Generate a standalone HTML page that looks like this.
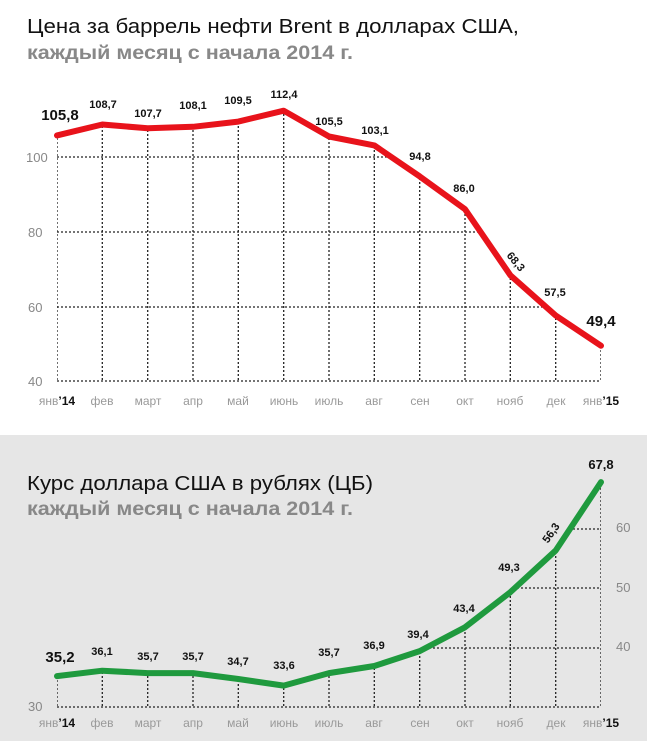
<!DOCTYPE html>
<html><head><meta charset="utf-8"><style>
body{margin:0;background:#fff;}
svg{display:block;font-family:"Liberation Sans","DejaVu Sans",sans-serif;}
.t{font-size:20px;fill:#111;}
.s{font-size:19px;fill:#888;font-weight:bold;}
.m{font-size:12px;fill:#999;text-anchor:middle;}
.y{font-size:13px;fill:#888;}
.v{font-size:11px;font-weight:bold;fill:#111;text-anchor:middle;}
.g{stroke:#222;stroke-width:1.3;stroke-dasharray:2 2;fill:none;}
</style></head><body>
<svg width="647" height="741" viewBox="0 0 647 741">
<defs>
<clipPath id="c1"><polygon points="57,135.4 102.3,124.5 147.7,128.3 193,126.8 238.3,121.6 283.7,110.7 329,136.5 374.3,145.4 419.7,176.4 465,209.2 510.3,275.2 555.7,315.5 601,345.7 601,383 57,383"/></clipPath>
<clipPath id="c2"><polygon points="57,676.1 102.3,670.7 147.7,673.1 193,673.1 238.3,679 283.7,685.6 329,673.1 374.3,666 419.7,651.1 465,627.3 510.3,592.2 555.7,550.5 601,482.1 601,709 57,709"/></clipPath>
</defs>
<rect width="647" height="741" fill="#fff"/>
<text class="t" x="27" y="33" textLength="492" lengthAdjust="spacingAndGlyphs">Цена за баррель нефти Brent в долларах США,</text>
<text class="s" x="27" y="59" textLength="326" lengthAdjust="spacingAndGlyphs">каждый месяц с начала 2014 г.</text>
<g clip-path="url(#c1)">
<path class="g" d="M57,157H601M57,232H601M57,307H601M57,381H601M57,110V381M102.3,110V381M147.7,110V381M193,110V381M238.3,110V381M283.7,110V381M329,110V381M374.3,110V381M419.7,110V381M465,110V381M510.3,110V381M555.7,110V381M601,110V381"/>
</g>
<text class="y" x="26" y="162">100</text><text class="y" x="28" y="237">80</text><text class="y" x="28" y="312">60</text><text class="y" x="28" y="386">40</text>
<polyline points="57,135.4 102.3,124.5 147.7,128.3 193,126.8 238.3,121.6 283.7,110.7 329,136.5 374.3,145.4 419.7,176.4 465,209.2 510.3,275.2 555.7,315.5 601,345.7" fill="none" stroke="#e8131b" stroke-width="6" stroke-linejoin="round" stroke-linecap="round"/>
<text class="v" x="60" y="120" style="font-size:15px">105,8</text>
<text class="v" x="103" y="108">108,7</text><text class="v" x="148" y="117">107,7</text><text class="v" x="193" y="109">108,1</text><text class="v" x="238" y="104">109,5</text><text class="v" x="284" y="98">112,4</text><text class="v" x="329" y="125">105,5</text><text class="v" x="375" y="134">103,1</text><text class="v" x="420" y="160">94,8</text><text class="v" x="464" y="192">86,0</text>
<text class="v" transform="translate(513,264) rotate(50)">68,3</text>
<text class="v" x="555" y="296">57,5</text>
<text class="v" x="601" y="326" style="font-size:15px">49,4</text>
<g class="m"><text x="57" y="405">янв<tspan style="fill:#111;font-weight:bold">’14</tspan></text><text x="102" y="405">фев</text><text x="148" y="405">март</text><text x="193" y="405">апр</text><text x="238" y="405">май</text><text x="284" y="405">июнь</text><text x="329" y="405">июль</text><text x="374" y="405">авг</text><text x="420" y="405">сен</text><text x="465" y="405">окт</text><text x="510" y="405">нояб</text><text x="556" y="405">дек</text><text x="601" y="405">янв<tspan style="fill:#111;font-weight:bold">’15</tspan></text></g>

<rect x="0" y="435" width="647" height="306" fill="#e6e6e6"/>
<text class="t" x="27" y="490" textLength="346" lengthAdjust="spacingAndGlyphs">Курс доллара США в рублях (ЦБ)</text>
<text class="s" x="27" y="515" textLength="326" lengthAdjust="spacingAndGlyphs">каждый месяц с начала 2014 г.</text>
<g clip-path="url(#c2)">
<path class="g" d="M57,648H601M57,588H601M57,529H601M57,707H601M57,480V707M102.3,480V707M147.7,480V707M193,480V707M238.3,480V707M283.7,480V707M329,480V707M374.3,480V707M419.7,480V707M465,480V707M510.3,480V707M555.7,480V707M601,480V707"/>
</g>
<text class="y" x="616" y="532">60</text><text class="y" x="616" y="592">50</text><text class="y" x="616" y="651">40</text><text class="y" x="28" y="711">30</text>
<polyline points="57,676.1 102.3,670.7 147.7,673.1 193,673.1 238.3,679 283.7,685.6 329,673.1 374.3,666 419.7,651.1 465,627.3 510.3,592.2 555.7,550.5 601,482.1" fill="none" stroke="#1f9a3e" stroke-width="6" stroke-linejoin="round" stroke-linecap="round"/>
<text class="v" x="60" y="662" style="font-size:15px">35,2</text>
<text class="v" x="102" y="655">36,1</text><text class="v" x="148" y="660">35,7</text><text class="v" x="193" y="660">35,7</text><text class="v" x="238" y="665">34,7</text><text class="v" x="284" y="669">33,6</text><text class="v" x="329" y="656">35,7</text><text class="v" x="374" y="649">36,9</text><text class="v" x="418" y="638">39,4</text><text class="v" x="464" y="612">43,4</text><text class="v" x="509" y="571">49,3</text>
<text class="v" transform="translate(554,535) rotate(-55)">56,3</text>
<text class="v" x="601" y="469" style="font-size:13px">67,8</text>
<g class="m"><text x="57" y="727">янв<tspan style="fill:#111;font-weight:bold">’14</tspan></text><text x="102" y="727">фев</text><text x="148" y="727">март</text><text x="193" y="727">апр</text><text x="238" y="727">май</text><text x="284" y="727">июнь</text><text x="329" y="727">июль</text><text x="374" y="727">авг</text><text x="420" y="727">сен</text><text x="465" y="727">окт</text><text x="510" y="727">нояб</text><text x="556" y="727">дек</text><text x="601" y="727">янв<tspan style="fill:#111;font-weight:bold">’15</tspan></text></g>
</svg>
</body></html>
